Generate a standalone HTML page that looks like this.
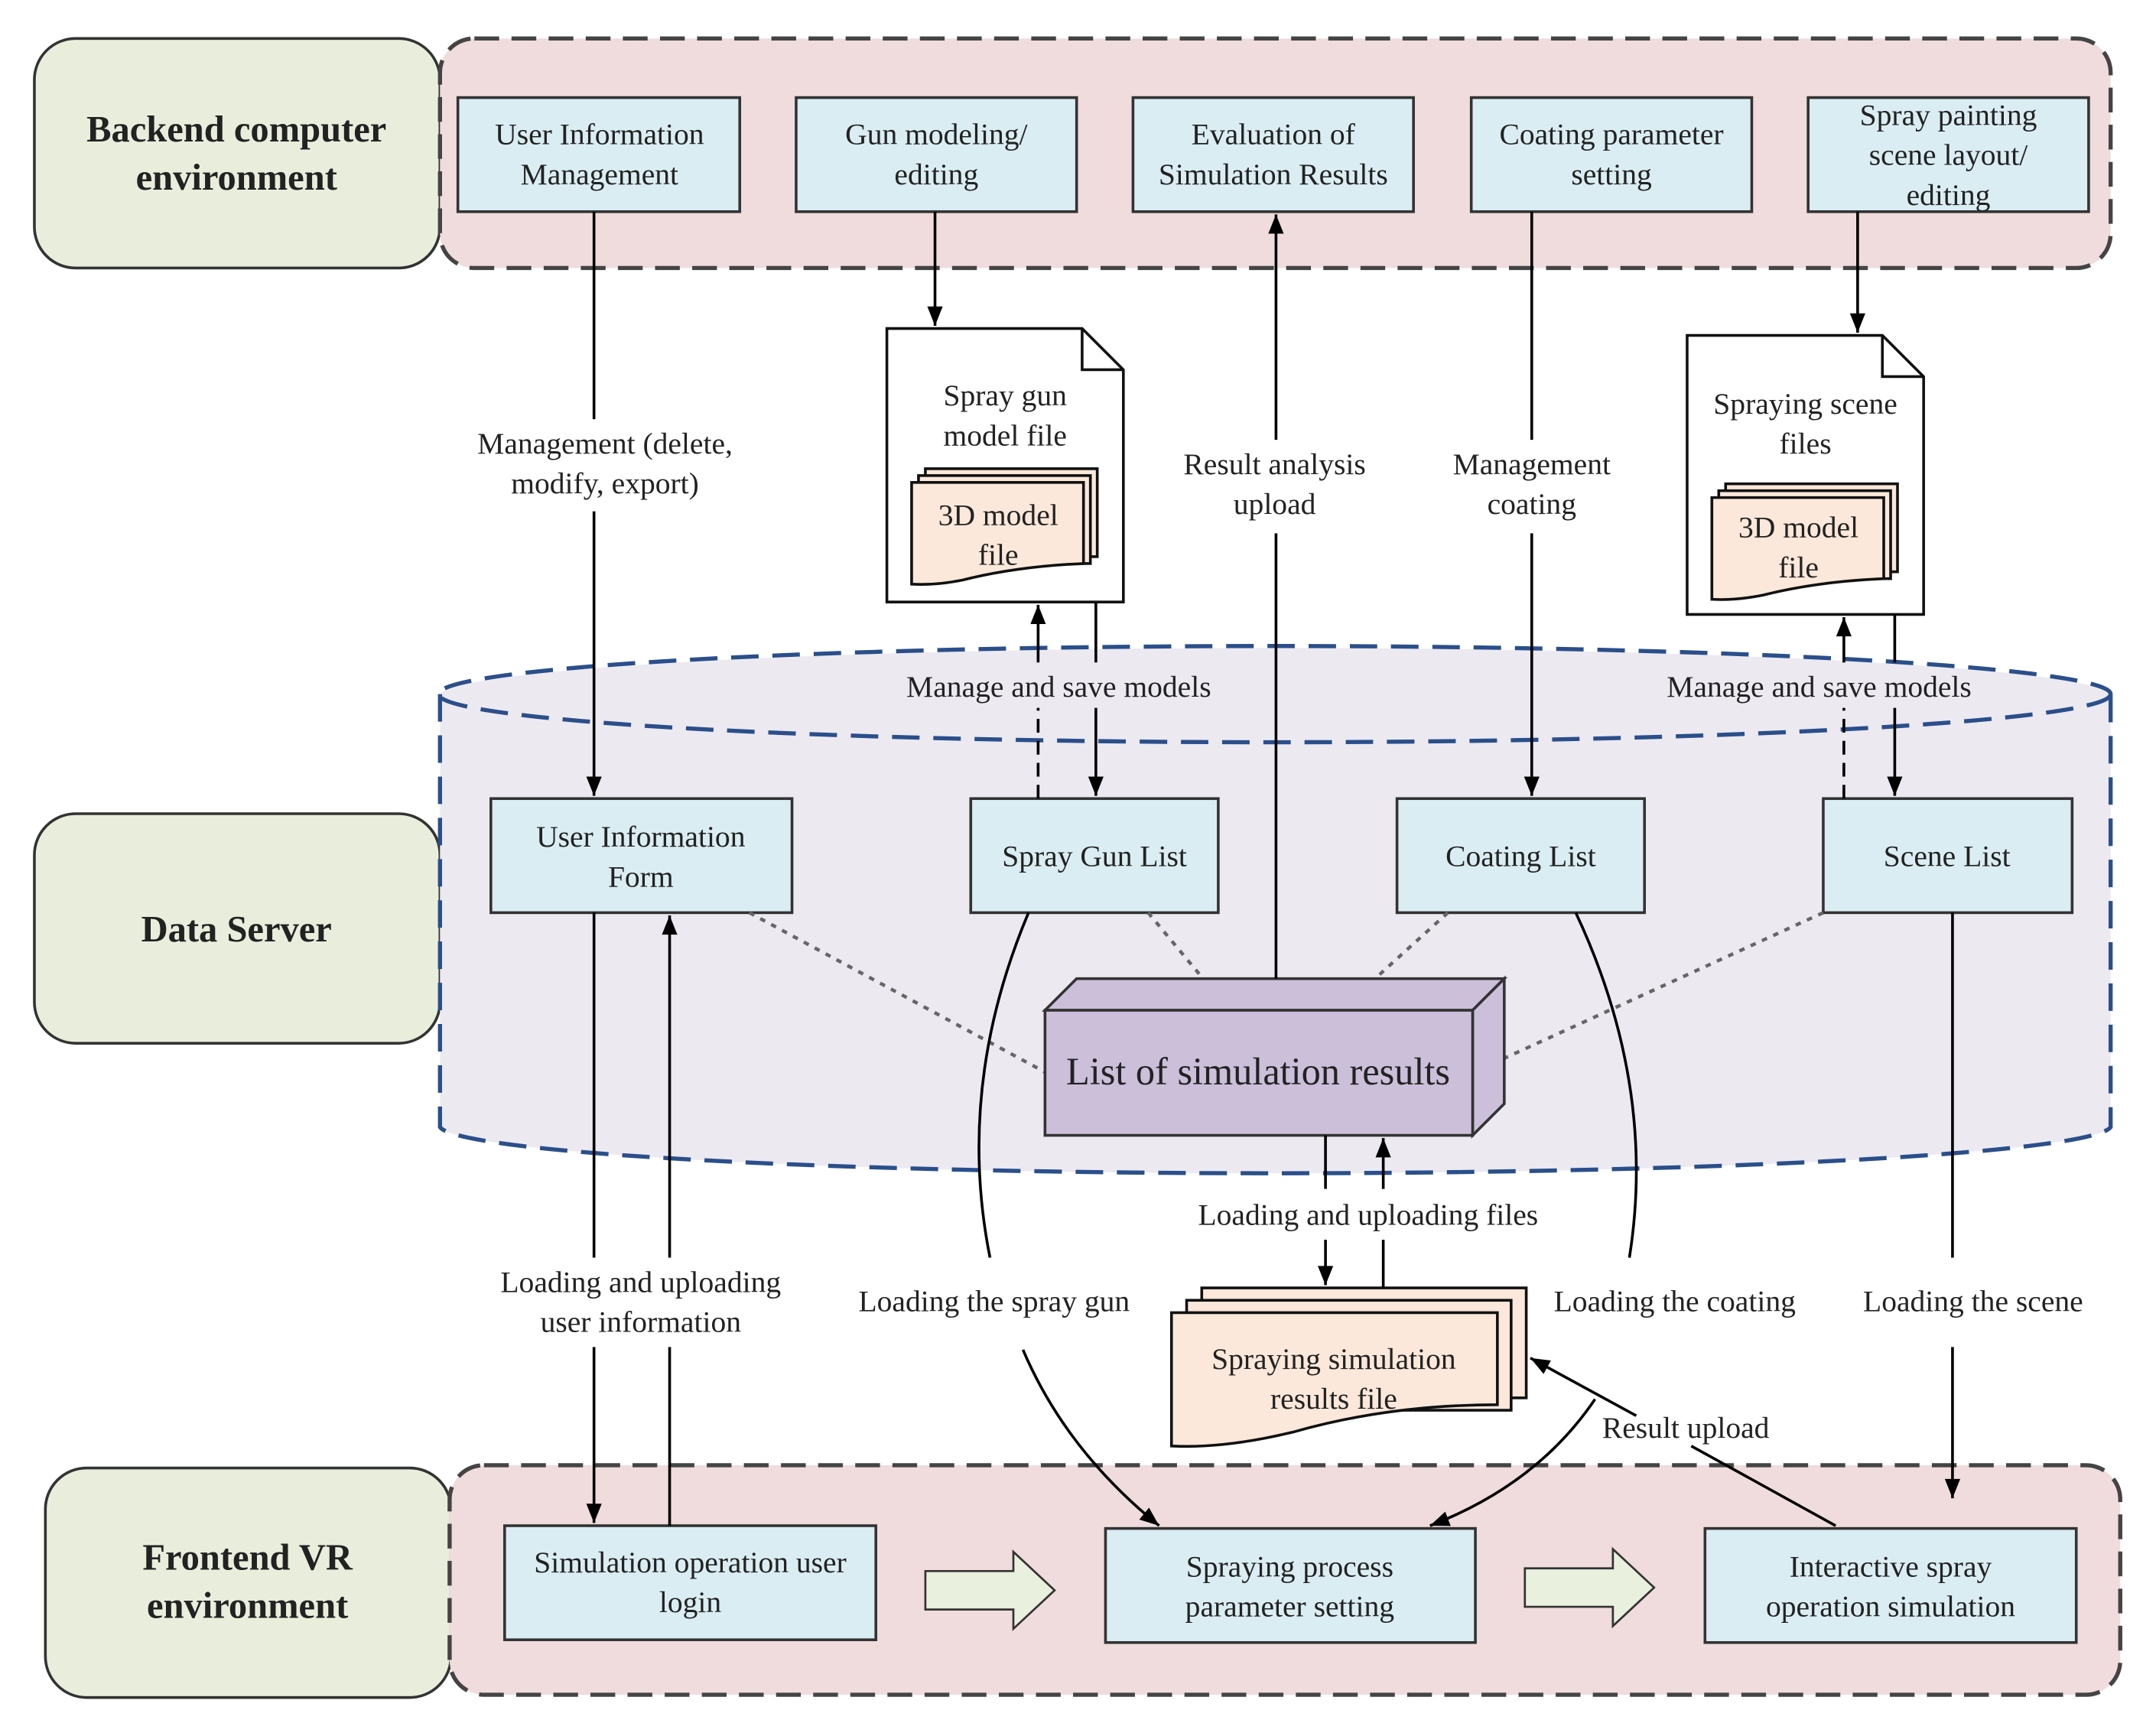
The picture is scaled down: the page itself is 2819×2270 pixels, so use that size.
<!DOCTYPE html>
<html><head><meta charset="utf-8"><style>
html,body{margin:0;padding:0;background:#fff}
svg{display:block}
text{font-family:"Liberation Serif",serif;fill:#222}
</style></head><body>
<svg width="2819" height="2270" viewBox="0 0 1568 1263" preserveAspectRatio="none" xmlns="http://www.w3.org/2000/svg">
<defs>
<marker id="b" viewBox="0 0 10 10" refX="10" refY="5" markerWidth="16" markerHeight="14" markerUnits="userSpaceOnUse" orient="auto"><path d="M0,1 L10,5 L0,9 z" fill="#000"/></marker>
</defs>
<g fill="#e9eedc" stroke="#333" stroke-width="2">
<rect x="25" y="28" width="295" height="167" rx="30"/>
<rect x="25" y="592" width="295" height="167" rx="30"/>
<rect x="33" y="1068" width="295" height="167" rx="30"/>
</g>
<g font-weight="bold" font-size="27" text-anchor="middle">
<text x="172" y="103">Backend computer</text><text x="172" y="138">environment</text>
<text x="172" y="685">Data Server</text>
<text x="180" y="1142">Frontend VR</text><text x="180" y="1177">environment</text>
</g>
<rect x="320" y="28" width="1215" height="167" rx="25" fill="#f0dcdc" stroke="#444" stroke-width="3" stroke-dasharray="18,9"/>
<rect x="327" y="1066" width="1215" height="167" rx="25" fill="#f0dcdc" stroke="#444" stroke-width="3" stroke-dasharray="18,9"/>
<path d="M320,505 L320,820 A608,35 0 0 0 1535,820 L1535,505 A608,35 0 0 0 320,505 z" fill="#ece9f1"/>
<g fill="none" stroke="#2a4f8a" stroke-width="3" stroke-dasharray="20,10">
<ellipse cx="927" cy="505" rx="608" ry="35"/>
<path d="M320,505 L320,820 A608,35 0 0 0 1535,820 L1535,505"/>
</g>
<g fill="#daedf3" stroke="#333" stroke-width="2">
<rect x="333" y="71" width="205" height="83"/><rect x="579" y="71" width="204" height="83"/>
<rect x="824" y="71" width="204" height="83"/><rect x="1070" y="71" width="204" height="83"/>
<rect x="1315" y="71" width="204" height="83"/>
<rect x="357" y="581" width="219" height="83"/><rect x="706" y="581" width="180" height="83"/>
<rect x="1016" y="581" width="180" height="83"/><rect x="1326" y="581" width="181" height="83"/>
<rect x="367" y="1110" width="270" height="83"/><rect x="804" y="1112" width="269" height="83"/>
<rect x="1240" y="1112" width="270" height="83"/>
</g>
<g font-size="22" text-anchor="middle">
<text x="436" y="105">User Information</text><text x="436" y="134">Management</text>
<text x="681" y="105">Gun modeling/</text><text x="681" y="134">editing</text>
<text x="926" y="105">Evaluation of</text><text x="926" y="134">Simulation Results</text>
<text x="1172" y="105">Coating parameter</text><text x="1172" y="134">setting</text>
<text x="1417" y="91">Spray painting</text><text x="1417" y="120">scene layout/</text><text x="1417" y="149">editing</text>
<text x="466" y="616">User Information</text><text x="466" y="645">Form</text>
<text x="796" y="630">Spray Gun List</text>
<text x="1106" y="630">Coating List</text>
<text x="1416" y="630">Scene List</text>
<text x="502" y="1144">Simulation operation user</text><text x="502" y="1173">login</text>
<text x="938" y="1147">Spraying process</text><text x="938" y="1176">parameter setting</text>
<text x="1375" y="1147">Interactive spray</text><text x="1375" y="1176">operation simulation</text>
</g>
<g stroke="#111" stroke-width="2">
<path d="M645,239 L787,239 L817,269 L817,438 L645,438 z" fill="#fff"/>
<path d="M787,239 L787,269 L817,269" fill="none"/>
<path d="M1227,244 L1369,244 L1399,274 L1399,447 L1227,447 z" fill="#fff"/>
<path d="M1369,244 L1369,274 L1399,274" fill="none"/>
</g>
<g fill="#fbe8da" stroke="#111" stroke-width="2">
<rect x="673" y="341" width="125" height="64"/><rect x="668" y="346" width="125" height="64"/>
<path d="M663,351 L788,351 L788,410 Q740,412 700,422 Q680,426 663,425 z"/>
<rect x="1255" y="352" width="125" height="64"/><rect x="1250" y="357" width="125" height="64"/>
<path d="M1245,362 L1370,362 L1370,421 Q1322,423 1282,433 Q1262,437 1245,436 z"/>
<rect x="874" y="937" width="236" height="80"/><rect x="863" y="946" width="236" height="80"/>
<path d="M852,955 L1089,955 L1089,1022 Q1010,1022 940,1042 Q890,1054 852,1052 z"/>
</g>
<g font-size="22" text-anchor="middle">
<text x="731" y="295">Spray gun</text><text x="731" y="324">model file</text>
<text x="726" y="382">3D model</text><text x="726" y="411">file</text>
<text x="1313" y="301">Spraying scene</text><text x="1313" y="330">files</text>
<text x="1308" y="391">3D model</text><text x="1308" y="420">file</text>
<text x="970" y="996">Spraying simulation</text><text x="970" y="1025">results file</text>
</g>
<g stroke="#666" stroke-width="2.5" stroke-dasharray="4,5" fill="none">
<path d="M545,664 L760,780"/><path d="M835,664 L875,712"/>
<path d="M1053,664 L1000,712"/><path d="M1326,664 L1072,780"/>
</g>
<g stroke="#333" stroke-width="2" fill="#cbbfda">
<path d="M760,735 L783,712 L1094,712 L1071,735 z"/>
<path d="M1071,735 L1094,712 L1094,803 L1071,826 z"/>
<rect x="760" y="735" width="311" height="91"/>
</g>
<text x="915" y="789" font-size="28" text-anchor="middle">List of simulation results</text>
<g stroke="#000" stroke-width="2" fill="none">
<path d="M432,154 L432,305"/><path d="M432,372 L432,579" marker-end="url(#b)"/>
<path d="M680,154 L680,237" marker-end="url(#b)"/>
<path d="M797,438 L797,482"/><path d="M797,515 L797,579" marker-end="url(#b)"/>
<path d="M755,581 L755,515" stroke-dasharray="10,6"/><path d="M755,482 L755,440" marker-end="url(#b)"/>
<path d="M928,712 L928,388"/><path d="M928,320 L928,156" marker-end="url(#b)"/>
<path d="M1114,154 L1114,320"/><path d="M1114,388 L1114,579" marker-end="url(#b)"/>
<path d="M1351,154 L1351,242" marker-end="url(#b)"/>
<path d="M1378,447 L1378,482"/><path d="M1378,515 L1378,579" marker-end="url(#b)"/>
<path d="M1341,581 L1341,515" stroke-dasharray="10,6"/><path d="M1341,482 L1341,449" marker-end="url(#b)"/>
<path d="M432,664 L432,915"/><path d="M432,980 L432,1108" marker-end="url(#b)"/>
<path d="M487,1110 L487,980"/><path d="M487,915 L487,666" marker-end="url(#b)"/>
<path d="M964,826 L964,865"/><path d="M964,902 L964,935" marker-end="url(#b)"/>
<path d="M1006,937 L1006,902"/><path d="M1006,865 L1006,828" marker-end="url(#b)"/>
<path d="M748,664 Q695,790 720,915"/><path d="M744,982 Q775,1055 843,1110" marker-end="url(#b)"/>
<path d="M1146,664 Q1205,790 1185,915"/><path d="M1160,1018 Q1118,1080 1040,1110" marker-end="url(#b)"/>
<path d="M1420,664 L1420,915"/><path d="M1420,980 L1420,1090" marker-end="url(#b)"/>
<path d="M1335,1110 L1230,1052"/><path d="M1190,1030 L1113,988" marker-end="url(#b)"/>
</g>
<g font-size="22" text-anchor="middle">
<text x="440" y="330">Management (delete,</text><text x="440" y="359">modify, export)</text>
<text x="927" y="345">Result analysis</text><text x="927" y="374">upload</text>
<text x="1114" y="345">Management</text><text x="1114" y="374">coating</text>
<text x="770" y="507">Manage and save models</text>
<text x="1323" y="507">Manage and save models</text>
<text x="466" y="940">Loading and uploading</text><text x="466" y="969">user information</text>
<text x="995" y="891">Loading and uploading files</text>
<text x="723" y="954">Loading the spray gun</text>
<text x="1218" y="954">Loading the coating</text>
<text x="1435" y="954">Loading the scene</text>
<text x="1226" y="1046">Result upload</text>
</g>
<g fill="#e9f0de" stroke="#333" stroke-width="1.5">
<path d="M673,1143 L737,1143 L737,1129 L767,1157 L737,1185 L737,1171 L673,1171 z"/>
<path d="M1109,1141 L1173,1141 L1173,1127 L1203,1155 L1173,1183 L1173,1169 L1109,1169 z"/>
</g>
</svg>
</body></html>
